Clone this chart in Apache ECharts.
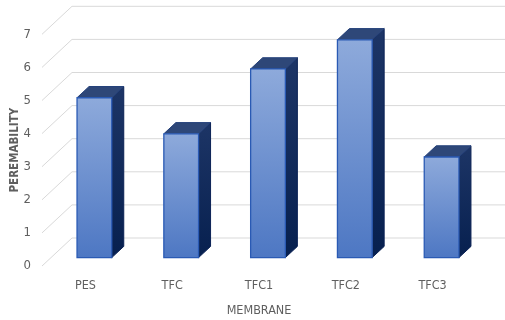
<!DOCTYPE html>
<html>
<head>
<meta charset="utf-8">
<script src="https://cdn.jsdelivr.net/npm/echarts@6/dist/echarts.min.js"></script>
<style>
  html, body { margin: 0; padding: 0; background: #ffffff; }
  #chart { width: 505px; height: 320px; }
</style>
</head>
<body>
<div id="chart"></div>
<script>
// Membrane permeability, drawn as Excel-style 3D columns
const categories = ['PES', 'TFC', 'TFC1', 'TFC2', 'TFC3'];
const permeability = [4.83, 3.74, 5.70, 6.58, 3.04];
const yTicks = [0, 1, 2, 3, 4, 5, 6, 7];

const FONT = '"Liberation Sans Narrow", "DejaVu Sans Condensed", "Open Sans", sans-serif';
const TEXT = '#5f5f5f';

// oblique depth of the plot box (front plane to back wall)
const DEPTH_X = 30;
const DEPTH_Y = -28;
// column placement along the depth and across the category band
const FRONT_F = 0.3;
const BACK_F = 0.7;
const BAR_FRAC = 0.4;

const chart = echarts.init(document.getElementById('chart'), null, { renderer: 'canvas' });

function renderWallLine(params, api) {
  const cs = params.coordSys;
  const y = api.coord([0, api.value(1)])[1];
  const left = cs.x;
  const right = cs.x + cs.width;
  return {
    type: 'polyline',
    shape: {
      points: [
        [left, y],
        [left + DEPTH_X, y + DEPTH_Y],
        [right + DEPTH_X, y + DEPTH_Y]
      ]
    },
    style: { stroke: '#d9d9d9', lineWidth: 1, fill: null },
    silent: true
  };
}

function renderColumn(params, api) {
  const idx = api.value(0);
  const base = api.coord([idx, 0]);
  const top = api.coord([idx, api.value(1)]);
  const band = api.size([1, 0])[0];
  const w = band * BAR_FRAC;
  const fx = base[0] + FRONT_F * DEPTH_X - w / 2;
  const fyB = base[1] + FRONT_F * DEPTH_Y;
  const fyT = top[1] + FRONT_F * DEPTH_Y;
  const ddx = (BACK_F - FRONT_F) * DEPTH_X;
  const ddy = (BACK_F - FRONT_F) * DEPTH_Y;

  const sidePts = [
    [fx + w, fyT],
    [fx + w + ddx, fyT + ddy],
    [fx + w + ddx, fyB + ddy],
    [fx + w, fyB]
  ];
  const topPts = [
    [fx, fyT],
    [fx + ddx, fyT + ddy],
    [fx + w + ddx, fyT + ddy],
    [fx + w, fyT]
  ];
  return {
    type: 'group',
    children: [
      {
        type: 'polygon',
        shape: { points: sidePts },
        style: {
          fill: new echarts.graphic.LinearGradient(0, 0, 0, 1, [
            { offset: 0, color: '#1d3566' },
            { offset: 1, color: '#07204f' }
          ]),
          stroke: '#0b2255', lineWidth: 1
        }
      },
      {
        type: 'polygon',
        shape: { points: topPts },
        style: { fill: '#2e4778', stroke: '#24407a', lineWidth: 1 }
      },
      {
        type: 'rect',
        shape: { x: fx, y: fyT, width: w, height: fyB - fyT },
        style: {
          fill: new echarts.graphic.LinearGradient(0, 0, 0, 1, [
            { offset: 0, color: '#8eaadb' },
            { offset: 1, color: '#4d77c3' }
          ]),
          stroke: '#2a5ab4', lineWidth: 1.3
        }
      }
    ]
  };
}

const option = {
  animation: false,
  backgroundColor: '#ffffff',
  grid: {
    left: 42, right: 29, top: 34.3, bottom: 54,
    containLabel: false,
    outerBoundsMode: 'none'
  },
  xAxis: {
    type: 'category',
    data: categories,
    axisLine: { show: false },
    axisTick: { show: false },
    splitLine: { show: false },
    axisLabel: { color: TEXT, fontFamily: FONT, fontSize: 12.5, margin: 13 },
    name: 'MEMBRANE',
    nameLocation: 'middle',
    nameGap: 38,
    nameMoveOverlap: false,
    nameTextStyle: { color: TEXT, fontFamily: FONT, fontSize: 12.5 }
  },
  yAxis: {
    type: 'value',
    min: 0,
    max: 7,
    interval: 1,
    axisLine: { show: false },
    axisTick: { show: false },
    splitLine: { show: false },
    axisLabel: { color: TEXT, fontFamily: FONT, fontSize: 13, margin: 11 },
    name: 'PEREMABILITY',
    nameLocation: 'middle',
    nameGap: 21,
    nameRotate: 90,
    nameMoveOverlap: false,
    nameTextStyle: { color: TEXT, fontFamily: FONT, fontSize: 11.5, fontWeight: 'bold' }
  },
  series: [
    {
      type: 'custom',
      name: 'wall',
      renderItem: renderWallLine,
      data: yTicks.map(v => [0, v]),
      clip: false,
      silent: true,
      z: 1
    },
    {
      type: 'custom',
      name: 'Permeability',
      renderItem: renderColumn,
      data: permeability.map((v, i) => [i, v]),
      clip: false,
      z: 2
    }
  ]
};

chart.setOption(option);
</script>
</body>
</html>
